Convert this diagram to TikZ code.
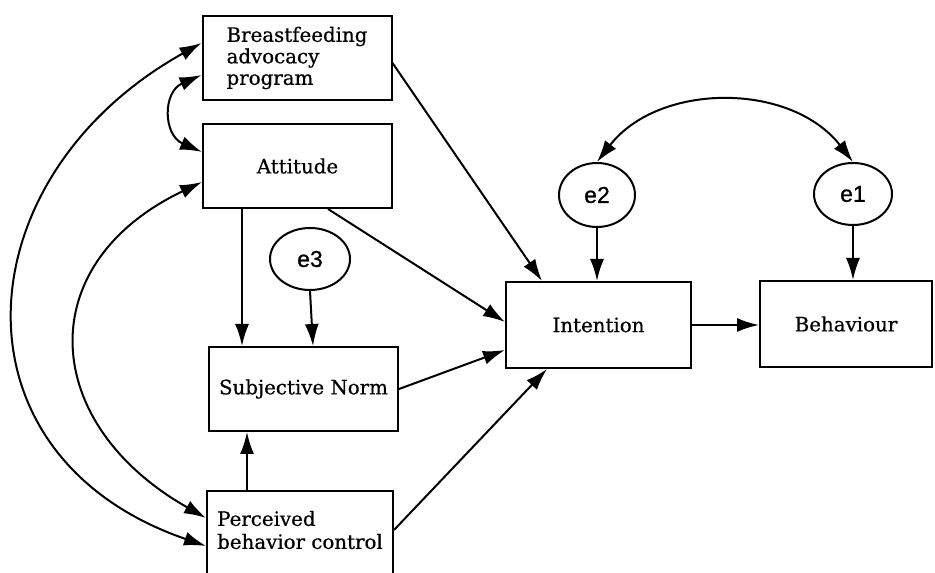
\documentclass[tikz,border=0pt]{standalone}
\usepackage{fontspec}
\setmainfont[FakeBold=0.6]{DejaVu Serif}
\newfontfamily\labfont[FakeBold=0.8]{Liberation Sans}
\usetikzlibrary{arrows.meta,shapes.geometric}
\begin{document}
\begin{tikzpicture}[x=1pt,y=1pt,
  box/.style={draw,line width=2pt,rectangle,inner sep=0pt,font=\fontsize{19.8}{21.5}\selectfont},
  err/.style={draw,line width=2pt,ellipse,inner sep=0pt,font=\labfont\fontsize{23}{24}\selectfont},
  lbl/.style={inner sep=0pt,font=\fontsize{19.8}{23}\selectfont},
  arr/.style={line width=2pt,-{Latex[length=22pt,width=14pt]}},
  biarr/.style={line width=2pt,{Latex[length=22pt,width=14pt]}-{Latex[length=22pt,width=14pt]}}]
\useasboundingbox (0,0) rectangle (935,573);
\fill[white] (0,0) rectangle (935,573);
% boxes
\node[box,minimum width=189pt,minimum height=84pt,align=left] (bf) at (297,515) {Breastfeeding\\advocacy\\program};
\node[box,minimum width=189pt,minimum height=84pt] (att) at (297.5,407) {Attitude};
\node[box,minimum width=189pt,minimum height=84pt] (sn) at (303.5,184) {Subjective Norm};
\node[box,minimum width=186pt,minimum height=100pt] (pbc) at (300,32) {};
\node[lbl,align=left] (pbctxt) at (300,43) {Perceived\\behavior control};
\node[box,minimum width=185pt,minimum height=86pt] (int) at (598.5,248) {Intention};
\node[box,minimum width=172pt,minimum height=86pt] (beh) at (846,249) {Behaviour};
% error terms
\node[err,minimum width=76pt,minimum height=64pt] (e2) at (597,378) {e2};
\node[err,minimum width=78pt,minimum height=62pt] (e1) at (853,379) {e1};
\node[err,minimum width=80pt,minimum height=62pt] (e3) at (310,314) {e3};
% coordinates
\coordinate (bfE) at ([yshift=-5pt]bf.east);
\coordinate (intN) at ([xshift=-56.5pt]int.north);
\coordinate (attS) at ([xshift=30.5pt]att.south);
\coordinate (intW1) at ([yshift=3pt]int.west);
\coordinate (intW2) at ([yshift=-25pt]int.west);
\coordinate (pbcE) at ([yshift=11pt]pbc.east);
\coordinate (intS) at ([xshift=-51.5pt]int.south);
\coordinate (attS2) at ([xshift=-55.5pt]att.south);
\coordinate (snN) at ([xshift=9.5pt]sn.north);
\coordinate (pbcN) at ([xshift=-53pt]pbc.north);
\coordinate (bfW1) at ([yshift=15pt]bf.west);
\coordinate (bfW2) at ([yshift=-17pt]bf.west);
\coordinate (attW1) at ([yshift=14pt]att.west);
\coordinate (attW2) at ([yshift=-16pt]att.west);
\coordinate (pbcW1) at ([yshift=23pt]pbc.west);
\coordinate (pbcW2) at ([yshift=-5pt]pbc.west);
% directed paths
\draw[arr] (bfE) -- (intN);
\draw[arr] (attS) -- (intW1);
\draw[arr] (sn.east) -- (intW2);
\draw[arr] (pbcE) -- (intS);
\draw[arr] (attS2) -- (attS2 |- sn.north);
\draw[arr] (e3.south) -- (snN);
\draw[arr] (pbcN) -- (pbcN |- sn.south);
\draw[arr] (e2.south) -- (e2.south |- int.north);
\draw[arr] (e1.south) -- (e1.south |- beh.north);
\draw[arr] (int.east) -- (int.east -| beh.west);
% covariances
\draw[biarr] (e2.north) .. controls +(62,80) and +(-62,80) .. (e1.north);
\draw[biarr] (bfW1) .. controls +(-240,-134) and +(-262,90) .. (pbcW2);
\draw[biarr] (attW2) .. controls +(-172,-82) and +(-166,94) .. (pbcW1);
\draw[biarr] (bfW2) .. controls +(-39,-17) and +(-39,17) .. (attW1);
\end{tikzpicture}
\end{document}
